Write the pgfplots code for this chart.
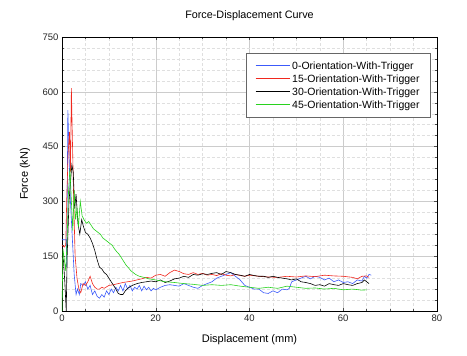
\documentclass[border=0pt]{standalone}
\usepackage{fontspec}
\setmainfont{Liberation Sans}
\usepackage{pgfplots}
\pgfplotsset{compat=1.18}
\definecolor{cblue}{RGB}{60,90,250}
\definecolor{cred}{RGB}{240,40,30}
\definecolor{cgreen}{RGB}{40,210,30}
\begin{document}
\begin{tikzpicture}
\begin{axis}[name=ax,
  scale only axis, width=375pt, height=274pt,
  xmin=0, xmax=80, ymin=0, ymax=750,
  xtick={0,20,...,80}, ytick={0,150,...,750},
  minor x tick num=3, minor y tick num=4,
  grid=both,
  major grid style={gray!40, line width=0.4pt},
  minor grid style={gray!25, densely dashed, line width=0.4pt},
  tick align=inside, tick pos=both,
  major tick length=3pt, minor tick length=2pt,
  axis line style={black, line width=0.9pt},
  tick style={black!70, line width=0.4pt},
  /pgf/number format/assume math mode=true,
  ticklabel style={font=\fontsize{9.5}{11}\selectfont, text=black!85},
  title={Force-Displacement Curve},
  every axis title/.style={at={(0.5,1.0766)}, anchor=center, font=\fontsize{10.8}{12}\selectfont},
  xlabel={Displacement (mm)},
  xlabel style={at={(0.5,-0.1058)}, anchor=center, font=\fontsize{11}{13}\selectfont},
  ylabel={Force (kN)},
  ylabel style={at={(-0.0987,0.5)}, anchor=center, font=\fontsize{11}{13}\selectfont},
  legend style={at={(0.984,0.9416)}, anchor=north east, draw=gray!80!black, line width=0.8pt,
     font=\fontsize{10.5}{12}\selectfont, inner xsep=9pt, inner ysep=6pt, row sep=0pt, fill=white},
  legend cell align=left,
  legend image code/.code={\draw[#1, line width=1.1pt] (0pt,0.5pt) -- (34pt,0.5pt);},
  every axis plot/.append style={line width=0.6pt},
]
\addplot[draw=cblue] coordinates {(0,195)(0.9,195)(1.0,120)(1.25,550)(1.5,430)(1.8,300)(2.2,200)(2.6,100)(3.0,45)(3.3,60)(3.7,45)(4.0,75)(4.5,70)(5.0,80)(5.5,60)(6,70)(6.5,45)(7,55)(7.5,40)(8,35)(8.5,45)(9,38)(9.5,55)(10,45)(10.5,60)(11,50)(11.5,65)(12,55)(12.5,70)(13,55)(13.5,75)(14,60)(14.5,70)(15,55)(15.5,65)(16,60)(16.5,70)(17,55)(17.5,68)(18,58)(18.5,65)(19,55)(19.5,62)(20,58)(21,65)(22,70)(23,72)(24,70)(25,68)(26,75)(27,70)(28,65)(29,62)(30,70)(31,75)(32,80)(33,90)(34,95)(35,100)(36,105)(37,95)(38,85)(39,70)(40,65)(41,60)(42,60)(43,50)(44,48)(45,55)(46,50)(47,60)(48,58)(48.5,62)(49,80)(50,85)(51,90)(52,95)(53,88)(54,95)(55,92)(56,85)(57,90)(58,80)(59,85)(60,78)(61,80)(62,75)(63,85)(64,82)(64.5,95)(65,90)(65.5,100)(66,98)};
\addlegendentry{0-Orientation-With-Trigger}
\addplot[draw=cred] coordinates {(0,180)(0.5,175)(0.8,180)(1.0,300)(1.3,430)(1.6,490)(1.8,380)(2.0,610)(2.2,480)(2.5,300)(2.8,150)(3.2,90)(3.6,60)(4.0,50)(4.5,75)(5,70)(5.5,80)(6,95)(6.5,75)(7,65)(7.5,60)(8,60)(8.5,65)(9,62)(10,70)(11,72)(12,75)(13,78)(14,80)(15,82)(16,85)(17,88)(18,92)(19,90)(20,98)(21,100)(22,95)(23,105)(24,112)(25,108)(26,102)(27,100)(28,105)(29,100)(30,103)(31,98)(32,100)(33,97)(34,102)(35,98)(36,96)(37,100)(38,97)(39,95)(40,98)(42,95)(44,93)(46,92)(48,95)(50,93)(52,96)(54,94)(56,98)(58,96)(60,95)(62,92)(63,88)(64,95)(65,96)(65.5,92)};
\addlegendentry{15-Orientation-With-Trigger}
\addplot[draw=black] coordinates {(0,150)(0.3,140)(0.6,80)(0.9,0)(1.1,150)(1.5,300)(1.8,350)(2.1,400)(2.4,380)(2.7,280)(3.0,320)(3.4,240)(3.8,210)(4.2,250)(4.6,230)(5,215)(5.5,210)(6,200)(6.5,185)(7,165)(7.5,140)(8,120)(8.5,115)(9,105)(9.5,100)(10,90)(10.5,80)(11,70)(11.5,60)(12,48)(12.5,45)(13,45)(13.5,55)(14,62)(15,70)(16,75)(17,78)(18,80)(19,82)(20,80)(21,85)(22,78)(23,82)(24,88)(25,90)(26,95)(27,92)(28,100)(29,98)(30,102)(31,100)(32,103)(33,105)(34,100)(35,108)(36,105)(37,100)(38,98)(39,95)(40,100)(41,97)(42,95)(43,95)(44,92)(45,95)(46,92)(47,90)(48,88)(49,85)(50,88)(51,80)(52,78)(53,75)(54,70)(55,72)(56,68)(57,75)(58,72)(59,70)(60,75)(61,72)(62,70)(63,75)(64,78)(64.5,85)(65,80)(65.5,75)};
\addlegendentry{30-Orientation-With-Trigger}
\addplot[draw=cgreen] coordinates {(0,0)(0.2,170)(0.5,140)(0.8,110)(1.1,200)(1.4,330)(1.7,390)(2.0,300)(2.3,220)(2.6,330)(2.9,250)(3.2,280)(3.5,230)(3.9,300)(4.3,260)(4.7,250)(5.2,240)(5.7,245)(6.2,235)(6.7,225)(7.2,220)(7.7,215)(8.2,210)(8.7,200)(9.2,195)(9.7,190)(10.2,185)(10.7,180)(11.2,170)(11.7,162)(12.2,155)(12.7,145)(13.2,135)(13.7,125)(14.2,118)(14.7,110)(15.2,105)(15.7,100)(16.5,95)(17.5,92)(18.5,88)(20,85)(22,80)(24,78)(26,75)(28,73)(30,70)(32,72)(34,70)(36,72)(38,68)(40,65)(42,62)(44,65)(46,62)(48,68)(50,65)(52,62)(54,63)(56,60)(58,62)(60,58)(62,60)(64,57)(65,58)};
\addlegendentry{45-Orientation-With-Trigger}
\end{axis}
\path[use as bounding box] ([xshift=-62pt,yshift=-45pt]ax.south west) rectangle ([xshift=30pt,yshift=37pt]ax.north east);
\end{tikzpicture}
\end{document}
